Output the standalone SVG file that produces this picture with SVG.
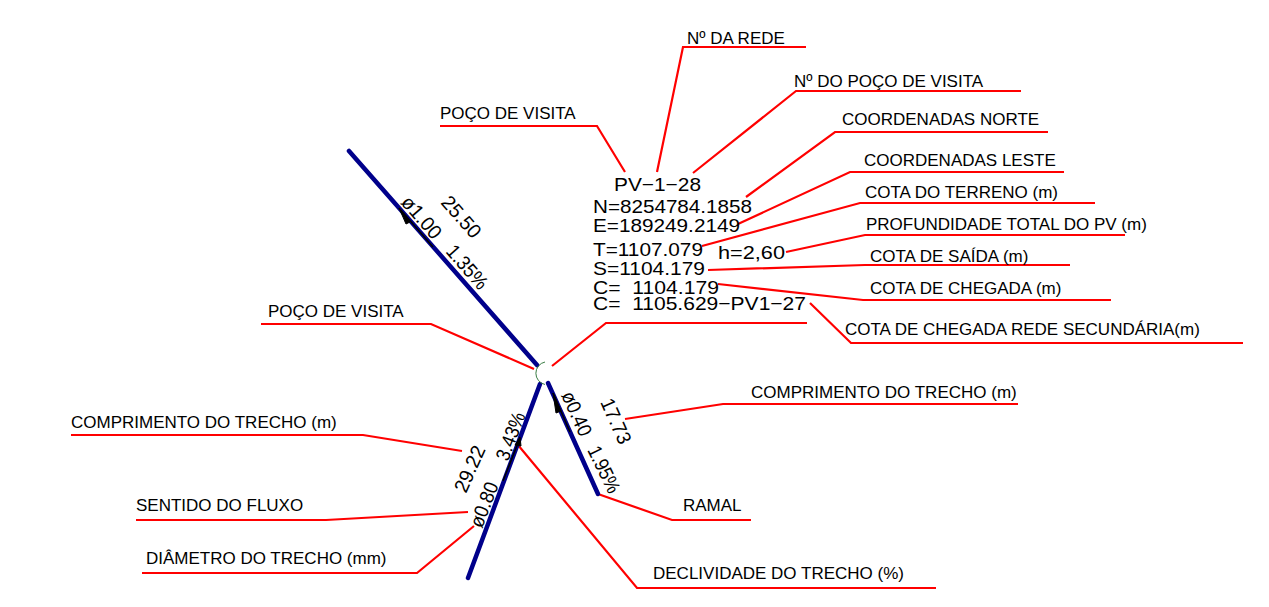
<svg xmlns="http://www.w3.org/2000/svg" width="1269" height="607" viewBox="0 0 1269 607">
<style>
.r{fill:none;stroke:#f00;stroke-width:2.2}
.b{fill:none;stroke:#00008b;stroke-width:4.5;stroke-linecap:round}
.k{fill:none;stroke:#000;stroke-width:1.5}
.a{fill:#000;stroke:#000}
.l{font:17px "Liberation Sans",Arial,sans-serif;fill:#000}
.d{font:19px "Liberation Sans",Arial,sans-serif;fill:#000}
.t{font:20px "Liberation Sans",Arial,sans-serif;fill:#000}
</style>
<rect width="1269" height="607" fill="#fff"/>
<g id="connectors">
<path class="r" d="M657 172L683 47H806"/>
<path class="r" d="M693 173L796 91H1021"/>
<path class="r" d="M746 197L835 132H1048"/>
<path class="r" d="M738 224L850 172H1064"/>
<path class="r" d="M702 246L860 203H1095"/>
<path class="r" d="M786 252L865 235H1125"/>
<path class="r" d="M708 270L865 265H1070"/>
<path class="r" d="M718 284L863 300H1111"/>
<path class="r" d="M810 303L851 343H1243"/>
<path class="r" d="M552 366L606 323H807"/>
<path class="r" d="M625 172L597 126H440"/>
<path class="r" d="M534 369L431 324H261"/>
<path class="r" d="M625 419L723 404H1018"/>
<path class="r" d="M598 494L672 520H751"/>
<path class="r" d="M518 445L637 588H936"/>
<path class="r" d="M462 451L363 435H71"/>
<path class="r" d="M468 512L326 520H136"/>
<path class="r" d="M474 526L417 573H142"/>
<path class="b" d="M349 151L537 365"/>
<path class="b" d="M540 384L468 578"/>
<path class="b" d="M548 383L598 494"/>
<path class="k" d="M399 208L433 247"/>
<path class="a" d="M399 208L410 222L406 224Z"/>
<path class="k" d="M520 438L503 481"/>
<path class="a" d="M520 437L521 446L515 445Z"/>
<path class="k" d="M553 393L570 432"/>
<path class="a" d="M553 393L561 411L556 413Z"/>
</g>
<g id="node-manhole">
<path d="M545 362A11.500 11.500 0 0 0 545 384.500" fill="none" stroke="#3a7d44" stroke-width="1"/>
</g>
<g id="node-data">
<text class="d" x="614" y="191" textLength="87" lengthAdjust="spacingAndGlyphs">PV−1−28</text>
<text class="d" x="593" y="213" textLength="159" lengthAdjust="spacingAndGlyphs">N=8254784.1858</text>
<text class="d" x="593" y="232" textLength="147" lengthAdjust="spacingAndGlyphs">E=189249.2149</text>
<text class="d" x="593" y="256" textLength="110" lengthAdjust="spacingAndGlyphs">T=1107.079</text>
<text class="d" x="718" y="259" textLength="67" lengthAdjust="spacingAndGlyphs">h=2,60</text>
<text class="d" x="593" y="275" textLength="112" lengthAdjust="spacingAndGlyphs">S=1104.179</text>
<text class="d" x="593" y="294" textLength="126" lengthAdjust="spacingAndGlyphs" xml:space="preserve">C=  1104.179</text>
<text class="d" x="593" y="310" textLength="213" lengthAdjust="spacingAndGlyphs" xml:space="preserve">C=  1105.629−PV1−27</text>
</g>
<g id="node-pipe-labels">
<text class="t" transform="translate(440 203) rotate(48.700)" textLength="49" lengthAdjust="spacingAndGlyphs">25.50</text>
<text class="t" transform="translate(400 203) rotate(48.700)" textLength="50" lengthAdjust="spacingAndGlyphs">ø1.00</text>
<text class="t" transform="translate(445 252) rotate(48.700)" textLength="52" lengthAdjust="spacingAndGlyphs">1.35%</text>
<text class="t" transform="translate(561 395) rotate(66)" textLength="47" lengthAdjust="spacingAndGlyphs">ø0.40</text>
<text class="t" transform="translate(600 402) rotate(66)" textLength="48" lengthAdjust="spacingAndGlyphs">17.73</text>
<text class="t" transform="translate(587 450) rotate(64)" textLength="50" lengthAdjust="spacingAndGlyphs">1.95%</text>
<text class="t" transform="translate(466 494) rotate(-66)" textLength="49" lengthAdjust="spacingAndGlyphs">29.22</text>
<text class="t" transform="translate(482 529) rotate(-69)" textLength="47" lengthAdjust="spacingAndGlyphs">ø0.80</text>
<text class="t" transform="translate(508 462) rotate(-69)" textLength="50" lengthAdjust="spacingAndGlyphs">3.43%</text>
</g>
<g id="node-labels">
<text class="l" x="687" y="44">Nº DA REDE</text>
<text class="l" x="794" y="87">Nº DO POÇO DE VISITA</text>
<text class="l" x="842" y="125">COORDENADAS NORTE</text>
<text class="l" x="864" y="166">COORDENADAS LESTE</text>
<text class="l" x="865" y="198">COTA DO TERRENO (m)</text>
<text class="l" x="866" y="230">PROFUNDIDADE TOTAL DO PV (m)</text>
<text class="l" x="870" y="262">COTA DE SAÍDA (m)</text>
<text class="l" x="870" y="294">COTA DE CHEGADA (m)</text>
<text class="l" x="845" y="335">COTA DE CHEGADA REDE SECUNDÁRIA(m)</text>
<text class="l" x="440" y="119">POÇO DE VISITA</text>
<text class="l" x="268" y="317">POÇO DE VISITA</text>
<text class="l" x="751" y="398">COMPRIMENTO DO TRECHO (m)</text>
<text class="l" x="683" y="511">RAMAL</text>
<text class="l" x="653" y="579">DECLIVIDADE DO TRECHO (%)</text>
<text class="l" x="71" y="428">COMPRIMENTO DO TRECHO (m)</text>
<text class="l" x="136" y="511">SENTIDO DO FLUXO</text>
<text class="l" x="146" y="564">DIÂMETRO DO TRECHO (mm)</text>
</g>
</svg>
